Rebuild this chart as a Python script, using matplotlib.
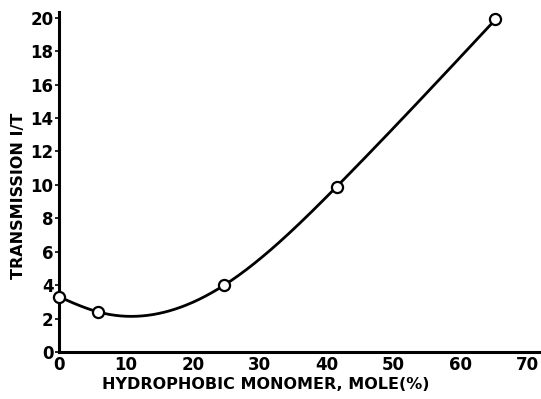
import numpy as np
import matplotlib
matplotlib.use("Agg")
import matplotlib.pyplot as plt

monomer_pct = [0.0, 5.8, 24.7, 41.5, 65.2]
transmission = [3.3, 2.4, 4.0, 9.9, 19.9]
x_ticks = [0, 10, 20, 30, 40, 50, 60, 70]
y_ticks = [0, 2, 4, 6, 8, 10, 12, 14, 16, 18, 20]


def natural_spline(x, y, xs):
    x = np.asarray(x, float); y = np.asarray(y, float)
    n = len(x)
    h = np.diff(x)
    A = np.zeros((n, n)); b = np.zeros(n)
    A[0, 0] = 1; A[-1, -1] = 1
    for i in range(1, n - 1):
        A[i, i - 1] = h[i - 1]
        A[i, i] = 2 * (h[i - 1] + h[i])
        A[i, i + 1] = h[i]
        b[i] = 3 * ((y[i + 1] - y[i]) / h[i] - (y[i] - y[i - 1]) / h[i - 1])
    c = np.linalg.solve(A, b)
    out = np.empty_like(xs)
    for k, xv in enumerate(xs):
        i = min(max(np.searchsorted(x, xv) - 1, 0), n - 2)
        bi = (y[i + 1] - y[i]) / h[i] - h[i] * (2 * c[i] + c[i + 1]) / 3
        di = (c[i + 1] - c[i]) / (3 * h[i])
        dx = xv - x[i]
        out[k] = y[i] + bi * dx + c[i] * dx ** 2 + di * dx ** 3
    return out


plt.rcParams['font.family'] = ['DejaVu Sans']
fig = plt.figure(figsize=(5.41, 3.99), dpi=100)
ax = fig.add_axes([0.109, 0.118, 0.891, 0.852])

xs = np.linspace(monomer_pct[0], monomer_pct[-1], 400)
ax.plot(xs, natural_spline(monomer_pct, transmission, xs), color='black', lw=2.0, zorder=2)
ax.plot(monomer_pct, transmission, 'o', ms=8, mfc='white', mec='black', mew=1.6, zorder=3, clip_on=False)

ax.set_xlim(0, 72)
ax.set_ylim(0, 20.35)
ax.set_xticks(x_ticks)
ax.set_yticks(y_ticks)
ax.set_xticklabels([str(v) for v in x_ticks], fontsize=12, fontweight='bold')
ax.set_yticklabels([str(v) for v in y_ticks], fontsize=12, fontweight='bold')
ax.tick_params(axis='x', length=0, pad=3)
ax.tick_params(axis='y', length=3, width=1.2, pad=1, direction='out')
for s in ['top', 'right']:
    ax.spines[s].set_visible(False)
for s in ['left', 'bottom']:
    ax.spines[s].set_linewidth(2.2)
ax.set_xlabel('HYDROPHOBIC MONOMER, MOLE(%)', fontsize=11.5, fontweight='bold')
ax.set_ylabel('TRANSMISSION I/T', fontsize=11.5, fontweight='bold')
ax.xaxis.set_label_coords(0.43, -0.075)
ax.yaxis.set_label_coords(-0.068, 0.46)
fig.savefig('out.png', dpi=100)
